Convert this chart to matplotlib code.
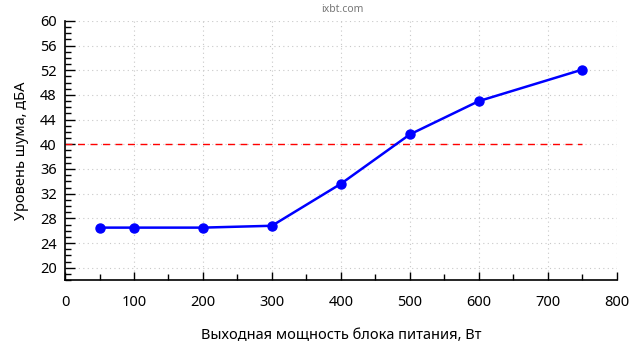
import numpy as np
import matplotlib
matplotlib.use('Agg')
import matplotlib.pyplot as plt
from matplotlib.ticker import MultipleLocator

plt.rcParams['font.family'] = ['Noto Sans', 'DejaVu Sans']

power = [50, 100, 200, 300, 400, 500, 600, 750]
noise = [26.5, 26.5, 26.5, 26.8, 33.6, 41.6, 47.0, 52.1]
limit_x = [0, 750]
limit_y = [40, 40]

fig = plt.figure(figsize=(6.4, 3.6), dpi=100)
ax = fig.add_axes([0.1016, 0.222, 0.862, 0.72])

ax.plot(limit_x, limit_y, color='red', linestyle=(0, (5, 4)), linewidth=1)
ax.plot(power, noise, color='blue', linewidth=1.8, marker='o', markersize=6.5)

ax.set_xlim(0, 800)
ax.set_ylim(18, 60)
ax.xaxis.set_major_locator(MultipleLocator(100))
ax.xaxis.set_minor_locator(MultipleLocator(50))
ax.yaxis.set_major_locator(MultipleLocator(4))
ax.yaxis.set_minor_locator(MultipleLocator(1))
ax.set_yticks(np.arange(20, 61, 4))

ax.grid(True, which='major', color='#c8c8c8', linestyle=(0, (1, 3)), linewidth=0.8)
ax.set_axisbelow(True)

for s in ['top', 'right']:
    ax.spines[s].set_visible(False)
for s in ['left', 'bottom']:
    ax.spines[s].set_linewidth(1.2)

ax.tick_params(which='major', direction='in', length=6, width=1, labelsize=10.5, pad=11)
ax.tick_params(which='minor', direction='in', length=4, width=1)
ax.tick_params(axis='y', which='major', length=7, pad=6)

ax.set_xlabel('Выходная мощность блока питания, Вт', fontsize=10.5, labelpad=13)
ax.set_ylabel('Уровень шума, дБА', fontsize=10.5, labelpad=8)

fig.text(0.535, 0.975, 'ixbt.com', ha='center', va='center', fontsize=7.5, color='#777777')

fig.savefig('out.png', dpi=100)
